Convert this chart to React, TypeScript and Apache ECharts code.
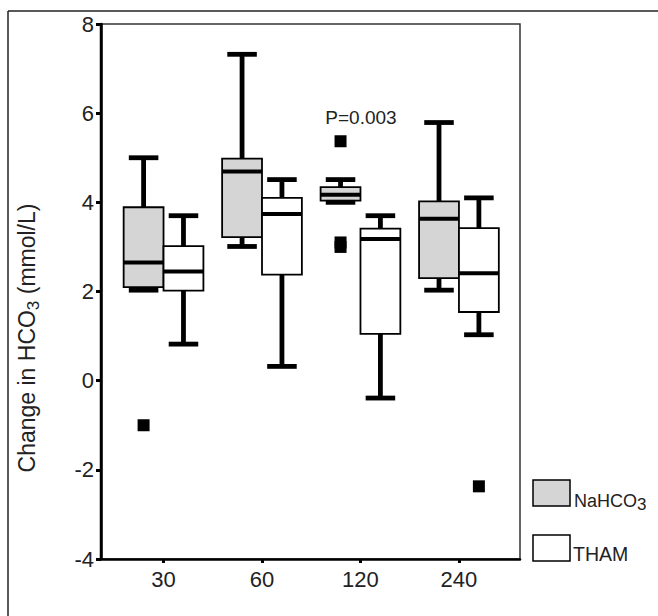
import React, { useEffect, useRef } from 'react';
import * as echarts from 'echarts';

// ---------- data ----------
const categories = ['30', '60', '120', '240'];
const yTicks = [-4, -2, 0, 2, 4, 6, 8];
// [lower whisker, Q1, median, Q3, upper whisker]
const nahco3Boxes = [
  [2.03, 2.1, 2.65, 3.89, 5.0],
  [3.01, 3.22, 4.69, 4.98, 7.32],
  [4.0, 4.04, 4.17, 4.34, 4.51],
  [2.03, 2.3, 3.63, 4.02, 5.79],
];
const thamBoxes = [
  [0.82, 2.02, 2.45, 3.02, 3.7],
  [0.32, 2.38, 3.74, 4.1, 4.51],
  [-0.39, 1.05, 3.18, 3.41, 3.7],
  [1.03, 1.54, 2.41, 3.42, 4.1],
];
// [category index, value]
const nahco3Outliers = [
  [0, -1.0],
  [2, 5.37],
  [2, 3.1],
  [2, 3.0],
];
const thamOutliers = [[3, -2.37]];
const seriesNames = ['NaHCO3', 'THAM'];
const pLabel = 'P=0.003';

// ---------- layout / style ----------
const FONT = '"Liberation Sans", Arial, Helvetica, sans-serif';
const X_MIN = -0.635;
const X_MAX = 3.62;
const BOX_W = 0.405;
const CAP_W = 0.3;
const GRAY = '#d5d5d5';
const INK = '#000';
const GRID = { left: 101, right: 138, top: 24, bottom: 57 };

function boxSeries(name: string, boxes: number[][], side: number, fill: string) {
  return {
    type: 'custom',
    name,
    clip: false,
    data: boxes.map((b, i) => [i, ...b]),
    encode: { x: 0, y: [1, 2, 3, 4, 5] },
    renderItem: (params: any, api: any) => {
      const i = api.value(0);
      const left = side < 0 ? i - BOX_W : i;
      const right = side < 0 ? i : i + BOX_W;
      const c = (left + right) / 2;
      const lo = api.value(1);
      const q1 = api.value(2);
      const med = api.value(3);
      const q3 = api.value(4);
      const hi = api.value(5);
      const [xL, yQ3] = api.coord([left, q3]);
      const [xR, yQ1] = api.coord([right, q1]);
      const [cx, yMed] = api.coord([c, med]);
      const yLo = api.coord([c, lo])[1];
      const yHi = api.coord([c, hi])[1];
      const capHalf = api.size([CAP_W, 0])[0] / 2;
      const thick = { stroke: '#000', lineWidth: 4.8, lineCap: 'butt' };
      return {
        type: 'group',
        children: [
          { type: 'line', shape: { x1: cx, y1: yHi, x2: cx, y2: yQ3 }, style: thick },
          { type: 'line', shape: { x1: cx, y1: yQ1, x2: cx, y2: yLo }, style: thick },
          {
            type: 'rect',
            shape: { x: xL, y: yQ3, width: xR - xL, height: yQ1 - yQ3 },
            style: { fill, stroke: '#000', lineWidth: 1.8 },
          },
          { type: 'line', shape: { x1: xL, y1: yMed, x2: xR, y2: yMed }, style: { stroke: '#000', lineWidth: 4 } },
          { type: 'line', shape: { x1: cx - capHalf, y1: yHi, x2: cx + capHalf, y2: yHi }, style: thick },
          { type: 'line', shape: { x1: cx - capHalf, y1: yLo, x2: cx + capHalf, y2: yLo }, style: thick },
        ],
      };
    },
  };
}

function outlierSeries(name: string, pts: number[][], side: number) {
  return {
    type: 'scatter',
    name,
    symbol: 'rect',
    symbolSize: 12,
    itemStyle: { color: '#000', opacity: 1 },
    data: pts.map(([i, v]) => [i + side * BOX_W / 2, v]),
    z: 5,
  };
}

export default function App() {
  const ref = useRef<HTMLDivElement>(null);
  useEffect(() => {
    const chart = echarts.init(ref.current!, null, { renderer: 'svg' });
    chart.setOption({
      animation: false,
      backgroundColor: '#fff',
      textStyle: { fontFamily: FONT },
      grid: {
        ...GRID,
        show: true,
        borderColor: '#333',
        borderWidth: 1.5,
        backgroundColor: 'transparent',
      },
      xAxis: {
        type: 'value',
        min: X_MIN,
        max: X_MAX,
        z: 10,
        axisLine: { show: true, onZero: false, lineStyle: { color: INK, width: 2.5 } },
        axisTick: { show: true, customValues: [0, 1, 2, 3], length: 4, lineStyle: { color: INK, width: 3 } },
        axisLabel: {
          customValues: [0, 1, 2, 3],
          formatter: (v: number) => categories[Math.round(v)] ?? '',
          fontSize: 22,
          color: '#222',
          margin: 9,
          fontFamily: FONT,
        },
        splitLine: { show: false },
      },
      yAxis: {
        type: 'value',
        position: 'left',
        z: 10,
        min: yTicks[0],
        max: yTicks[yTicks.length - 1],
        interval: 2,
        axisLine: { show: true, onZero: false, lineStyle: { color: INK, width: 2.5 } },
        axisTick: { show: true, length: 5, lineStyle: { color: INK, width: 3 } },
        axisLabel: { fontSize: 22, color: '#222', margin: 7, fontFamily: FONT },
        splitLine: { show: false },
      },
      series: [
        boxSeries(seriesNames[0], nahco3Boxes, -1, GRAY),
        boxSeries(seriesNames[1], thamBoxes, 1, '#fff'),
        outlierSeries(seriesNames[0], nahco3Outliers, -1),
        outlierSeries(seriesNames[1], thamOutliers, 1),
      ],
      graphic: [
        // outer frame
        { type: 'line', shape: { x1: 8, y1: 11, x2: 658, y2: 11 }, style: { stroke: '#222', lineWidth: 1.5 } },
        { type: 'line', shape: { x1: 8, y1: 11, x2: 8, y2: 616 }, style: { stroke: '#222', lineWidth: 1.5 } },
        // left edge of plot frame
        {
          type: 'line',
          z: 100,
          shape: { x1: GRID.left, y1: GRID.top, x2: GRID.left, y2: 616 - GRID.bottom },
          style: { stroke: '#000', lineWidth: 2.5 },
        },
        // y title
        {
          type: 'text',
          x: 27,
          y: 338,
          rotation: Math.PI / 2,
          style: {
            text: '{m|Change in HCO}{s|3}{m| (mmol/L)}',
            align: 'center',
            verticalAlign: 'middle',
            fill: '#222',
            rich: {
              m: { fontSize: 23, fontFamily: FONT, fill: '#222', lineHeight: 30 },
              s: { fontSize: 17, fontFamily: FONT, fill: '#222', lineHeight: 17, verticalAlign: 'bottom' },
            },
          },
        },
        // p-value
        {
          type: 'text',
          x: 361,
          y: 117,
          style: { text: pLabel, font: `19px ${FONT}`, fill: '#222', align: 'center', verticalAlign: 'middle' },
        },
        // legend
        { type: 'rect', shape: { x: 533, y: 480, width: 37, height: 26 }, style: { fill: GRAY, stroke: '#000', lineWidth: 1.5 } },
        { type: 'rect', shape: { x: 533, y: 535, width: 37, height: 26 }, style: { fill: '#fff', stroke: '#000', lineWidth: 1.5 } },
        {
          type: 'text',
          x: 574,
          y: 501,
          style: {
            text: '{m|NaHCO}{s|3}',
            verticalAlign: 'middle',
            rich: {
              m: { fontSize: 18, fontFamily: FONT, fill: '#222', lineHeight: 24 },
              s: { fontSize: 17, fontFamily: FONT, fill: '#222', lineHeight: 14, verticalAlign: 'bottom' },
            },
          },
        },
        {
          type: 'text',
          x: 573,
          y: 554,
          style: { text: seriesNames[1], font: `19.5px ${FONT}`, fill: '#222', verticalAlign: 'middle' },
        },
      ],
    });
    return () => chart.dispose();
  }, []);
  return <div ref={ref} style={{ width: 658, height: 616, position: 'absolute', left: 0, top: 0 }} />;
}
